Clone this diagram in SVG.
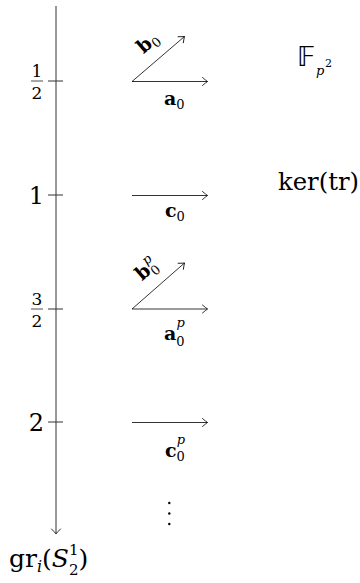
<svg xmlns="http://www.w3.org/2000/svg" width="360" height="583" viewBox="0 0 360 583" font-family="'DejaVu Serif', serif">
<defs>
<marker id="to" markerUnits="userSpaceOnUse" markerWidth="12" markerHeight="12" refX="0" refY="0" viewBox="-6 -6 12 12" orient="auto" overflow="visible">
<path d="M -5,-4 Q -1.5,-1 0,0 Q -1.5,1 -5,4" fill="none" stroke="#000" stroke-width="0.8" stroke-linecap="round"/>
</marker>
<marker id="toaxis" markerUnits="userSpaceOnUse" markerWidth="12" markerHeight="12" refX="0" refY="0" viewBox="-6 -6 12 12" orient="auto" overflow="visible">
<path d="M -5,-4.5 Q -1.5,-1 0,0 Q -1.5,1 -5,4.5" fill="none" stroke="#333" stroke-width="1" stroke-linecap="round"/>
</marker>
</defs>
<style>
text { font-family: "DejaVu Serif", serif; fill: #000; }
.num { font-size: 24px; }
.frac { font-size: 17px; }
.bf { font-weight: bold; font-size: 19px; }
.sub { font-size: 13px; }
.it { font-style: italic; }
.bb { font-family: "DejaVu Sans", sans-serif; font-size: 27px; }
.axis { stroke: #333; stroke-width: 1; fill: none; }
.vec { stroke: #000; stroke-width: 0.8; fill: none; marker-end: url(#to); }
.bar { stroke: #000; stroke-width: 0.7; }
</style>
<rect width="360" height="583" fill="#fff"/>

<g id="connectors">
<line class="axis" x1="56" y1="6" x2="56" y2="534" marker-end="url(#toaxis)"/>
<line class="axis" x1="48" y1="81" x2="63" y2="81"/>
<line class="axis" x1="48" y1="195" x2="63" y2="195"/>
<line class="axis" x1="48" y1="309" x2="63" y2="309"/>
<line class="axis" x1="48" y1="422" x2="63" y2="422"/>
<line class="vec" x1="132" y1="81.5" x2="207.5" y2="81.5"/>
<line class="vec" x1="132" y1="81.5" x2="184.5" y2="36.5"/>
<line class="vec" x1="132" y1="195.5" x2="207.5" y2="195.5"/>
<line class="vec" x1="132" y1="309" x2="207.5" y2="309"/>
<line class="vec" x1="132" y1="309" x2="184.5" y2="263"/>
<line class="vec" x1="132" y1="422.5" x2="207.5" y2="422.5"/>
</g>

<g id="tick-half">
<text class="frac" x="37" y="77" text-anchor="middle">1</text>
<line class="bar" x1="31" y1="81" x2="43" y2="81"/>
<text class="frac" x="37" y="99" text-anchor="middle">2</text>
</g>
<g id="tick-one">
<text class="num" x="44" y="204" text-anchor="end">1</text>
</g>
<g id="tick-threehalves">
<text class="frac" x="37" y="305" text-anchor="middle">3</text>
<line class="bar" x1="31" y1="309" x2="43" y2="309"/>
<text class="frac" x="37" y="327" text-anchor="middle">2</text>
</g>
<g id="tick-two">
<text class="num" x="44" y="431" text-anchor="end">2</text>
</g>

<g id="label-a0">
<text x="164" y="105"><tspan class="bf">a</tspan><tspan class="sub" dy="4">0</tspan></text>
</g>
<g id="label-b0" transform="translate(158,59) rotate(-41)">
<text x="3" y="-13" text-anchor="middle"><tspan class="bf">b</tspan><tspan class="sub" dy="4">0</tspan></text>
</g>
<g id="label-c0">
<text x="165" y="217"><tspan class="bf">c</tspan><tspan class="sub" dy="4">0</tspan></text>
</g>
<g id="label-a0p">
<text x="164" y="340"><tspan class="bf">a</tspan><tspan class="sub" dy="6">0</tspan><tspan class="sub it" dx="-8" dy="-19">p</tspan></text>
</g>
<g id="label-b0p" transform="translate(158,286) rotate(-41)">
<text x="2" y="-14" text-anchor="middle"><tspan class="bf">b</tspan><tspan class="sub" dy="5">0</tspan><tspan class="sub it" dx="-8" dy="-14">p</tspan></text>
</g>
<g id="label-c0p">
<text x="165" y="457"><tspan class="bf">c</tspan><tspan class="sub" dy="4">0</tspan><tspan class="sub it" dx="-8" dy="-17">p</tspan></text>
</g>

<g id="label-Fp2">
<text x="297" y="66" class="bb">𝔽</text>
<text x="316" y="75" class="sub it">p</text>
<text x="325" y="67" style="font-size:11px">2</text>
</g>
<g id="label-ker">
<text x="278" y="190" style="font-size:24px" textLength="81" lengthAdjust="spacingAndGlyphs">ker(tr)</text>
</g>

<g id="dots">
<circle cx="169.3" cy="503" r="1.2"/>
<circle cx="169.3" cy="513.5" r="1.2"/>
<circle cx="169.3" cy="524" r="1.2"/>
</g>

<g id="axis-label">
<text x="9" y="567" style="font-size:25px">gr<tspan class="it" style="font-size:16px" dy="5">i</tspan><tspan dy="-5">(</tspan><tspan class="it">S</tspan><tspan style="font-size:15px" dy="8">2</tspan><tspan style="font-size:15px" dx="-9.5" dy="-20">1</tspan><tspan dy="12">)</tspan></text>
</g>
</svg>
